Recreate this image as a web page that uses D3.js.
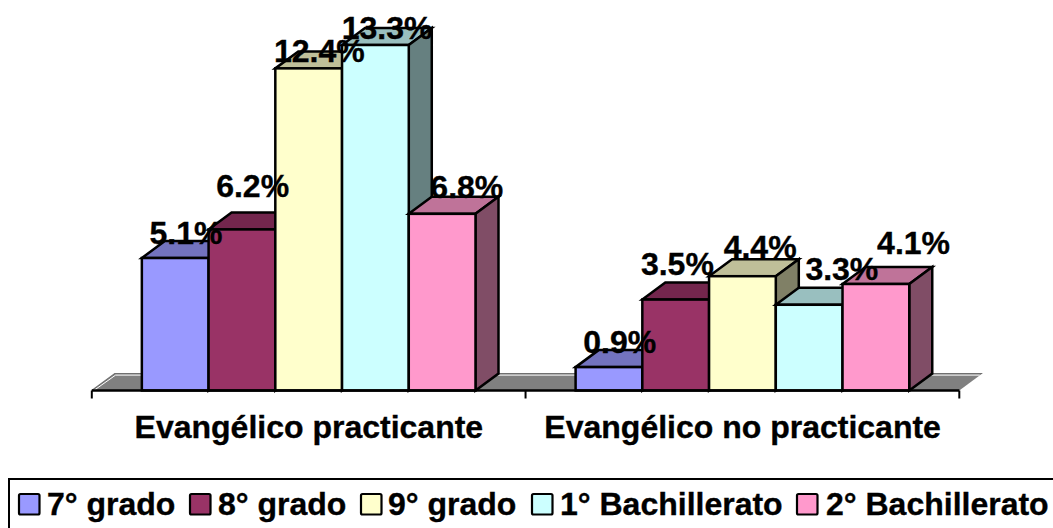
<!DOCTYPE html>
<html><head><meta charset="utf-8">
<script src="https://cdnjs.cloudflare.com/ajax/libs/d3/7.8.5/d3.min.js"></script>
<style>html,body{margin:0;padding:0;background:#fff;overflow:hidden}svg{display:block}text{font-family:"Liberation Sans",Arial,sans-serif;font-weight:bold;fill:#000;stroke:#000;stroke-width:.35px}</style>
</head><body><svg id="c" width="1053" height="528"></svg>
<script>
const categories = ["Evangélico practicante", "Evangélico no practicante"];
const seriesNames = ["7° grado", "8° grado", "9° grado", "1° Bachillerato", "2° Bachillerato"];
const seriesColors = ["#9999FF", "#993366", "#FFFFCC", "#CCFFFF", "#FF99CC"];
const values7 = [5.1, 0.9];
const values8 = [6.2, 3.5];
const values9 = [12.4, 4.4];
const valuesB1 = [13.3, 3.3];
const valuesB2 = [6.8, 4.1];
const allSeries = [values7, values8, values9, valuesB1, valuesB2];
// hand-placed data label nudges from the bar's top-centre [dx, dy], per series then category
const labelNudge = [[[11,-14.5],[11,-14.5]],[[11,-32.5],[2,-24.5]],[[11,-6.5],[18,-18.5]],[[12,-6.5],[33,-24.5]],[[25,-15.5],[38,-29.5]]];

const svg = d3.select("#c");
const depthX = 23, depthY = 17;
const x0 = d3.scaleBand().domain(categories).range([91.8, 959.3]);
const x1 = d3.scaleBand().domain(d3.range(5)).range([0, x0.bandwidth()]).paddingOuter(0.75).paddingInner(0);
const y = d3.scaleLinear().domain([0, 13.3]).range([390.5, 45]);
const shade = (c, k) => { const r = d3.rgb(c); return d3.rgb(r.r*k, r.g*k, r.b*k).formatHex(); };
const line = d3.line();

// floor
const b = y(0);
const fl = x0.range()[0], fr = x0.range()[1];
svg.append("path").attr("d", line([[fl,b],[fl+depthX,b-depthY],[fr+depthX,b-depthY],[fr,b]])+"Z").attr("fill","#808080");
svg.append("path").attr("d", line([[fl,b],[fl+depthX,b-depthY],[fr+depthX,b-depthY]]))
  .attr("fill","none").attr("stroke","#707070").attr("stroke-width",1.2);
svg.append("path").attr("d", line([[fl+2,b],[fl+depthX+.8,b-depthY+1.6],[fr+depthX-2.5,b-depthY+1.6]]))
  .attr("fill","none").attr("stroke","#fff").attr("stroke-width",1);

// bars
const sw = 2.5;
categories.forEach((cat, ci) => {
  allSeries.forEach((vals, si) => {
    const l = x0(cat) + x1(si), r = l + x1.bandwidth(), t = y(vals[ci]);
    const g = svg.append("g").attr("stroke","#000").attr("stroke-width",sw).attr("stroke-linejoin","miter");
    g.append("path").attr("fill", shade(seriesColors[si], .75))
      .attr("d", line([[l,t],[l+depthX,t-depthY],[r+depthX,t-depthY],[r,t]])+"Z");
    g.append("path").attr("fill", shade(seriesColors[si], .5))
      .attr("d", line([[r,t],[r+depthX,t-depthY],[r+depthX,b-depthY],[r,b]])+"Z");
    g.append("rect").attr("x",l).attr("y",t).attr("width",r-l).attr("height",b-t).attr("fill",seriesColors[si]);
  });
});

// axis
const axisG = svg.append("g");
axisG.append("line").attr("x1",fl).attr("x2",fr).attr("y1",b).attr("y2",b).attr("stroke","#000").attr("stroke-width",2.5);
[0,1,2].forEach(i => axisG.append("line").attr("x1",fl+i*x0.bandwidth()).attr("x2",fl+i*x0.bandwidth()).attr("y1",b).attr("y2",b+8).attr("stroke","#000").attr("stroke-width",2));
categories.forEach(cat => svg.append("text").attr("x",x0(cat)+x0.bandwidth()/2+.2).attr("y",438).attr("text-anchor","middle").attr("font-size",32).text(cat));

// labels
categories.forEach((cat, ci) => allSeries.forEach((vals, si) => {
  const n = labelNudge[si][ci];
  svg.append("text").attr("x", x0(cat)+x1(si)+x1.bandwidth()/2+n[0]-.3).attr("y", y(vals[ci])+n[1])
    .attr("text-anchor","middle").attr("font-size",32).text(vals[ci].toFixed(1)+"%");
}));

// legend
svg.append("rect").attr("x",9).attr("y",479).attr("width",1060).attr("height",60).attr("fill","#fff").attr("stroke","#000").attr("stroke-width",2);
const legendX = [19,190,361,532,797];
const legendTextX = [47,218,388,560,826];
seriesNames.forEach((name,i)=>{
  svg.append("rect").attr("x",legendX[i]).attr("y",494).attr("width",20.5).attr("height",20.5).attr("rx",1.5).attr("fill",seriesColors[i]).attr("stroke","#000").attr("stroke-width",2.2);
  svg.append("text").attr("x",legendTextX[i]).attr("y",515).attr("font-size",32).text(name);
});
</script></body></html>
